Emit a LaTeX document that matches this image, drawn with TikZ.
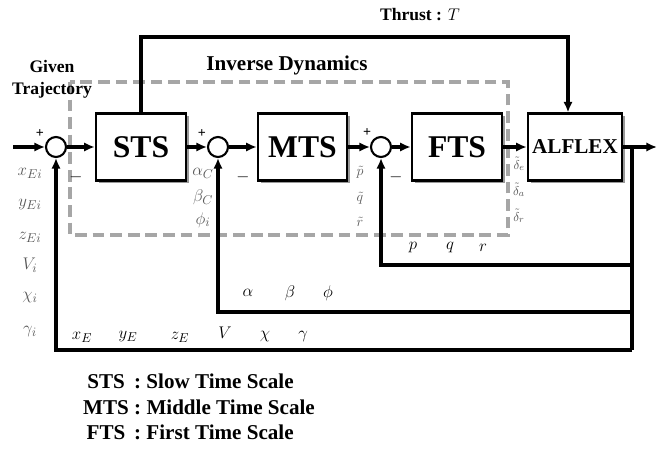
\documentclass[tikz,border=0pt]{standalone}
\usepackage{fontspec}
\setmainfont{Liberation Serif}
\usetikzlibrary{arrows.meta, positioning, shadows}

\begin{document}
\begin{tikzpicture}[x=0.03cm, y=-0.03cm,
  blockbox/.style={rectangle, draw=black, line width=2.2pt, fill=white, minimum width=2.7cm, minimum height=2.0cm, inner xsep=1pt, font=\fontsize{27}{30}\selectfont\bfseries, drop shadow={shadow xshift=2.4pt, shadow yshift=-2.4pt, fill=black!40, opacity=1}},
  sumnode/.style={circle, draw=black, line width=1.8pt, fill=white, minimum size=0.6cm, inner sep=0pt},
  sig/.style={line width=3.3pt, -{Latex[length=9pt, width=8pt]}},
  fb/.style={line width=3.3pt},
  sgn/.style={font=\fontsize{12}{12}\selectfont\bfseries, inner sep=0pt},
  lbl/.style={font=\fontsize{15}{15}\selectfont, inner sep=0pt},
  dim/.style={lbl, text=black!65},
  head/.style={font=\fontsize{15}{19}\selectfont\bfseries, align=center, inner sep=0pt},
  idbox/.style={draw=black!35, line width=2.8pt, dash pattern=on 10pt off 5pt}
]
\useasboundingbox (0,0) rectangle (657,450);

% inverse dynamics frame
\draw[idbox] (70,82) rectangle (508,235);

\node[head] at (420,15) {Thrust : $T$};
\node[head, font=\fontsize{15}{19}\selectfont\bfseries] at (52,79) {Given\\Trajectory};
\node[head, font=\fontsize{18}{19}\selectfont\bfseries] at (287,65) {Inverse Dynamics};

% blocks
\node[sumnode] (s1) at (56,147) {};
\node[blockbox] (sts) at (141,147) {STS};
\node[sumnode] (s2) at (218,147) {};
\node[blockbox, minimum width=2.67cm] (mts) at (302.5,147) {MTS};
\node[sumnode] (s3) at (381,147) {};
\node[blockbox] (fts) at (457,147) {FTS};
\node[blockbox, minimum width=2.82cm, font=\fontsize{18}{18}\selectfont\bfseries] (alflex) at (575,147) {ALFLEX};

\coordinate (in) at (13,147);
\coordinate (out) at (657,147);
\coordinate (tap) at (632,147);
\coordinate (thr) at (568,37);
\coordinate (fb1) at (632,350);
\coordinate (fb2) at (632,312);
\coordinate (fb3) at (632,265);

% forward path
\draw[sig] (in) -- (s1);
\draw[sig] (s1) -- (sts);
\draw[sig] (sts) -- (s2);
\draw[sig] (s2) -- (mts);
\draw[sig] (mts) -- (s3);
\draw[sig] (s3) -- (fts);
\draw[sig] (fts) -- (alflex);
\draw[sig] (alflex) -- (out);
\draw[sig] (sts.north) |- (thr) -- (thr |- alflex.north);

% feedback loops
\draw[fb] (tap) -- (fb1);
\draw[sig] (fb1) -| (s1.south);
\draw[sig] (fb2) -| (s2.south);
\draw[sig] (fb3) -| (s3.south);

% signs
\node[sgn] at (40,134) {+};
\node[sgn] at (202,134) {+};
\node[sgn] at (367,133) {+};
\node[lbl] at (76,177) {$-$};
\node[lbl] at (243,177) {$-$};
\node[lbl] at (396,177) {$-$};

% given trajectory
\node[dim] at (30,173) {$x_{Ei}$};
\node[dim] at (30,205) {$y_{Ei}$};
\node[dim] at (30,237) {$z_{Ei}$};
\node[dim] at (30,265) {$V_i$};
\node[dim] at (30,298) {$\chi_i$};
\node[dim] at (30,332) {$\gamma_i$};

% commands
\node[dim] at (203,173) {$\alpha_C$};
\node[dim] at (203,197) {$\beta_C$};
\node[dim] at (203,220) {$\phi_i$};
\node[dim, font=\fontsize{13}{13}\selectfont] at (360,172) {$\tilde p$};
\node[dim, font=\fontsize{13}{13}\selectfont] at (360,198) {$\tilde q$};
\node[dim, font=\fontsize{13}{13}\selectfont] at (360,222) {$\tilde r$};
\node[dim, font=\fontsize{11}{11}\selectfont] at (519,164) {$\tilde\delta_e$};
\node[dim, font=\fontsize{11}{11}\selectfont] at (519,190) {$\tilde\delta_a$};
\node[dim, font=\fontsize{11}{11}\selectfont] at (519,216) {$\tilde\delta_r$};

% fed back states
\node[lbl] at (413,248) {$p$};
\node[lbl] at (450,248) {$q$};
\node[lbl] at (483,248) {$r$};
\node[lbl] at (248,293) {$\alpha$};
\node[lbl] at (290,293) {$\beta$};
\node[lbl] at (328,293) {$\phi$};
\node[lbl] at (82,337) {$x_E$};
\node[lbl] at (128,337) {$y_E$};
\node[lbl] at (180,337) {$z_E$};
\node[lbl] at (225,333) {$V$};
\node[lbl] at (265,337) {$\chi$};
\node[lbl] at (303,337) {$\gamma$};

% legend
\node[anchor=west, inner sep=0pt, font=\fontsize{18}{22}\selectfont\bfseries] (legend) at (83,409) {%
  \begin{tabular}{@{}c@{ : }l@{}}
  STS & Slow Time Scale\\
  MTS & Middle Time Scale\\
  FTS & First Time Scale
  \end{tabular}};
\end{tikzpicture}
\end{document}
